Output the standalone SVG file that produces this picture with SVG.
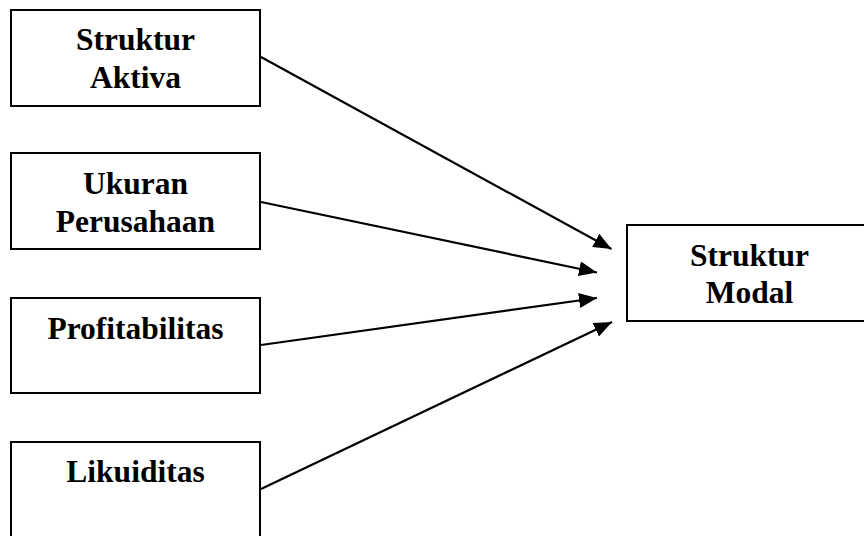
<svg xmlns="http://www.w3.org/2000/svg" width="864" height="536" viewBox="0 0 864 536">
<style>
.box{fill:#fff;stroke:#000;stroke-width:2}
.t{font-family:"Liberation Serif","Times New Roman",serif;font-weight:bold;font-size:31.5px;text-anchor:middle;fill:#000}
.c{stroke:#000;stroke-width:2.2;fill:none}
</style>
<defs>
<marker id="ah" markerUnits="userSpaceOnUse" markerWidth="19" markerHeight="15" viewBox="0 0 19 15" refX="18" refY="7.5" orient="auto">
<path d="M0,0 L18,7.5 L0,15 Z" fill="#000"/>
</marker>
</defs>
<rect width="864" height="536" fill="#fff"/>
<g id="connectors">
<line class="c" x1="261" y1="57" x2="611.5" y2="249" marker-end="url(#ah)"/>
<line class="c" x1="261" y1="202" x2="597" y2="272.5" marker-end="url(#ah)"/>
<line class="c" x1="261" y1="345" x2="597" y2="298" marker-end="url(#ah)"/>
<line class="c" x1="261" y1="489" x2="612" y2="322" marker-end="url(#ah)"/>
</g>
<g id="struktur-aktiva">
<rect class="box" x="11" y="10" width="249" height="96"/>
<text class="t" x="135.5" y="50">Struktur</text>
<text class="t" x="135.5" y="88">Aktiva</text>
</g>
<g id="ukuran-perusahaan">
<rect class="box" x="11" y="153" width="249" height="96"/>
<text class="t" x="135.5" y="194">Ukuran</text>
<text class="t" x="135.5" y="232">Perusahaan</text>
</g>
<g id="profitabilitas">
<rect class="box" x="11" y="298" width="249" height="95"/>
<text class="t" x="135.5" y="339">Profitabilitas</text>
</g>
<g id="likuiditas">
<rect class="box" x="11" y="442" width="249" height="110"/>
<text class="t" x="135.5" y="482">Likuiditas</text>
</g>
<g id="struktur-modal">
<rect class="box" x="627" y="225" width="245" height="96"/>
<text class="t" x="749.5" y="266">Struktur</text>
<text class="t" x="749.5" y="303">Modal</text>
</g>
</svg>
